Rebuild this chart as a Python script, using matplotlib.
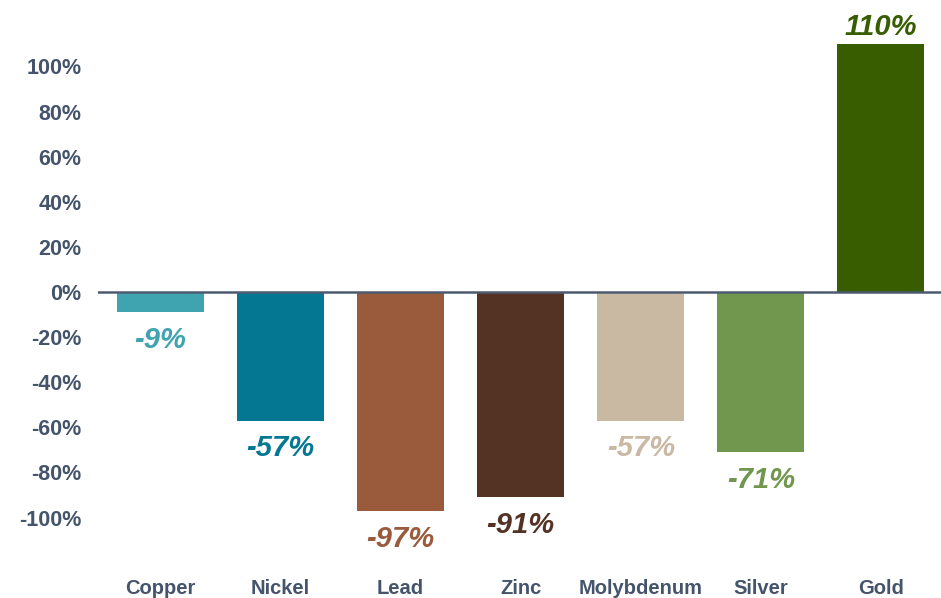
import matplotlib.pyplot as plt

metals = ['Copper', 'Nickel', 'Lead', 'Zinc', 'Molybdenum', 'Silver', 'Gold']
change_pct = [-9, -57, -97, -91, -57, -71, 110]
colors = ['#3fa4b0', '#047892', '#9a5a3c', '#543325', '#c9b8a2', '#70974d', '#385c00']
yticks = [-100, -80, -60, -40, -20, 0, 20, 40, 60, 80, 100]

plt.rcParams['font.family'] = ['Liberation Sans', 'DejaVu Sans']
label_color = '#44546a'

fig = plt.figure(figsize=(9.41, 5.98), dpi=100)
ax = fig.add_axes([98 / 941, 1 - 560 / 598, 843 / 941, 540 / 598])

x = range(len(metals))
ax.bar(x, change_pct, width=0.725, color=colors, zorder=2)
ax.axhline(0, color='#4d5b70', lw=1.8, zorder=3)

for xi, v, c in zip(x, change_pct, colors):
    if v < 0:
        ax.annotate(f'{v}%', (xi, v), xytext=(0, -10), textcoords='offset points',
                    ha='center', va='top', fontsize=21, fontweight='bold',
                    fontstyle='italic', color=c)
    else:
        ax.annotate(f'{v}%', (xi, v), xytext=(0, 2), textcoords='offset points',
                    ha='center', va='bottom', fontsize=21, fontweight='bold',
                    fontstyle='italic', color=c)

ax.set_xlim(-0.52, 6.5)
ax.set_ylim(-118.8, 120.6)
ax.set_yticks(yticks)
ax.set_yticklabels([f'{t}%' for t in yticks])
ax.set_xticks(list(x))
ax.set_xticklabels(metals)
ax.tick_params(axis='y', length=0, pad=12, labelsize=15.5, labelcolor=label_color)
ax.tick_params(axis='x', length=0, pad=14, labelsize=14.5, labelcolor=label_color)
for lab in ax.get_xticklabels() + ax.get_yticklabels():
    lab.set_fontweight('bold')

for s in ax.spines.values():
    s.set_visible(False)

fig.savefig('out.png', dpi=100)
